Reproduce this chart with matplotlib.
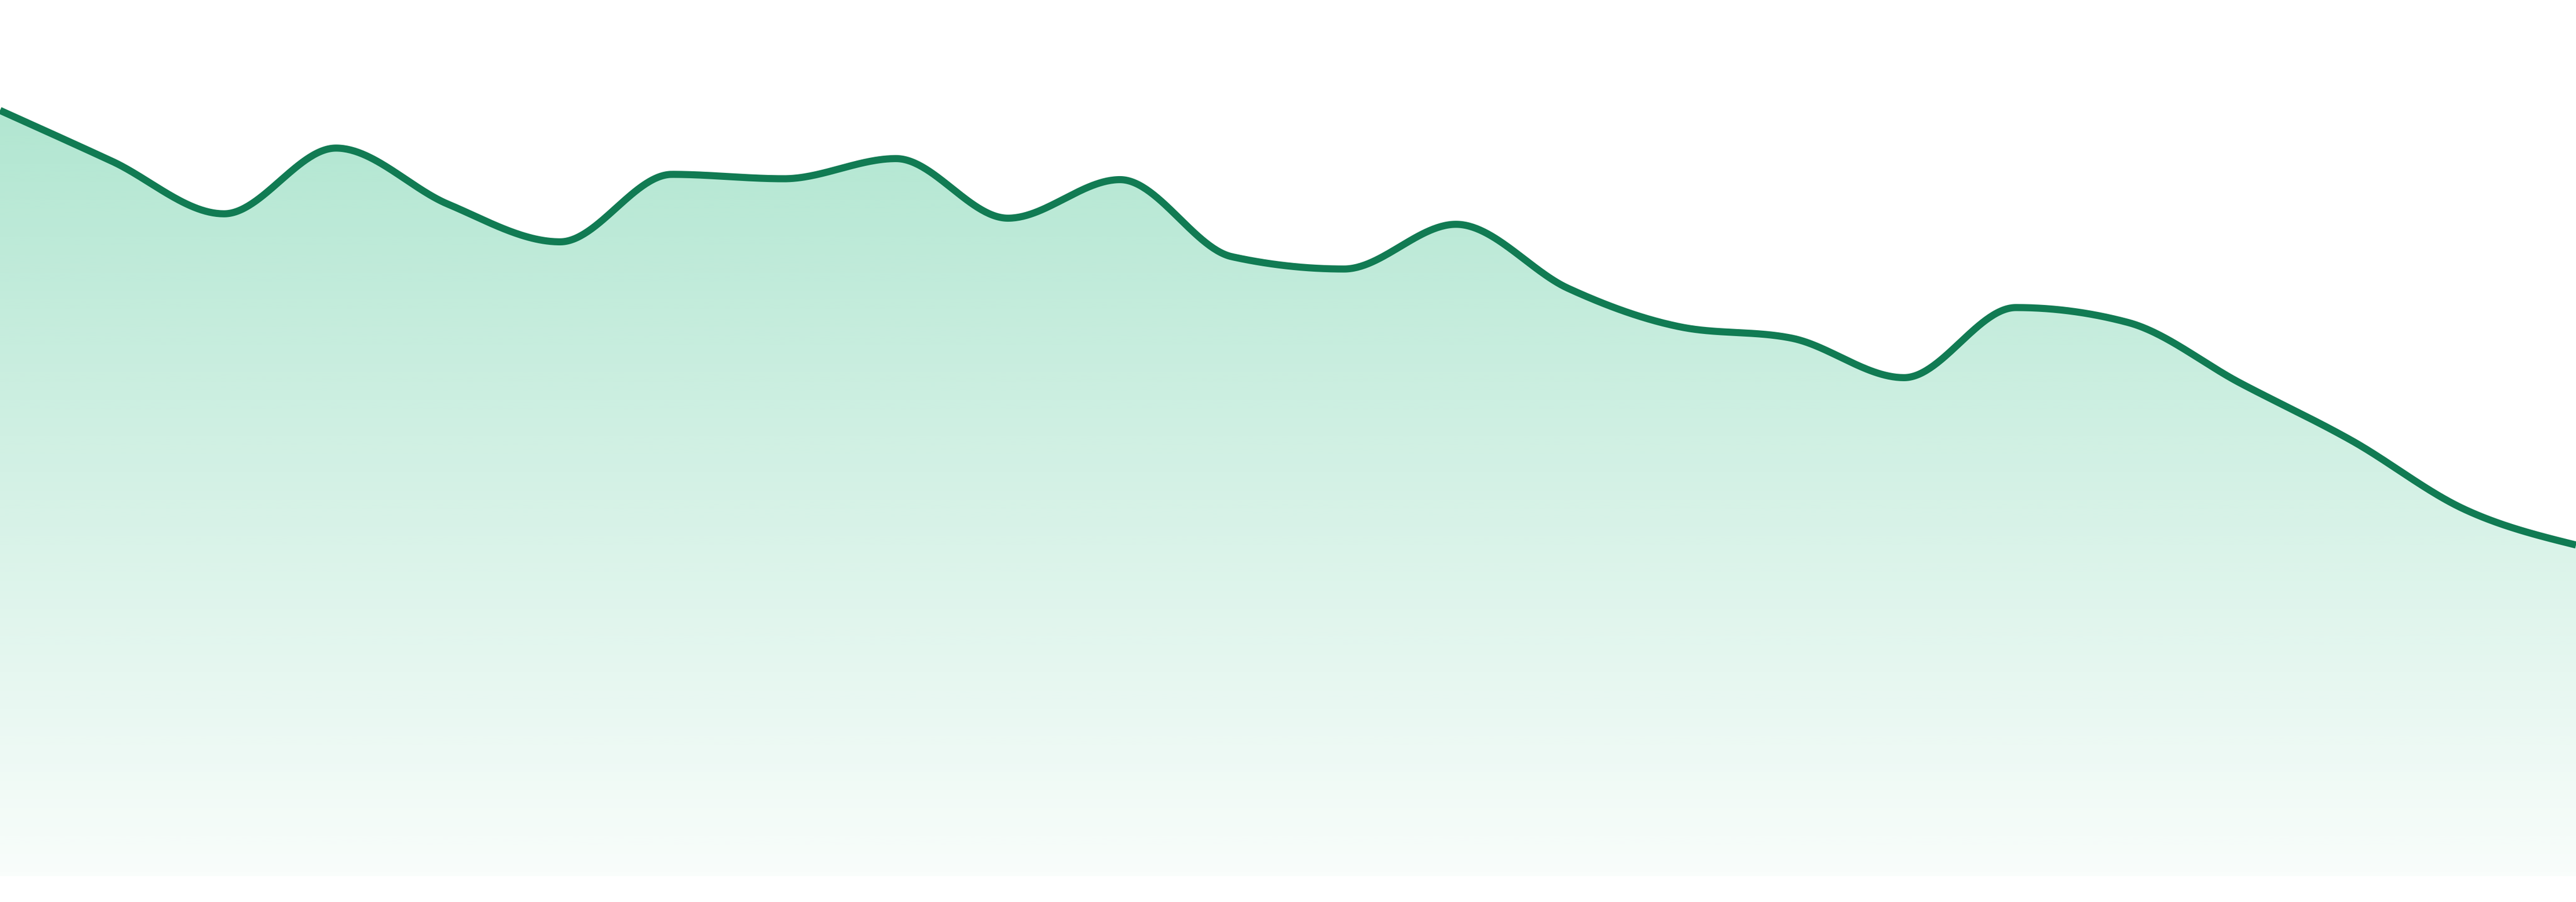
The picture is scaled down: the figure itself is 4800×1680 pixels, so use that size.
import numpy as np
import matplotlib
matplotlib.use("Agg")
import matplotlib.pyplot as plt
from matplotlib.patches import Polygon

# ---- data ----
points = list(range(24))
values = [87.4, 81.6, 75.6, 83.1, 76.7, 72.4, 80.1, 79.6, 81.9, 75.1, 79.5, 70.7,
          69.3, 74.4, 67.1, 62.7, 61.4, 56.9, 64.9, 63.2, 56.3, 49.7, 41.9, 37.8]

line_color = "#117b53"
fill_rgb = (38 / 255, 186 / 255, 127 / 255)


def monotone_x(x, y, n=60):
    """Monotone cubic interpolation (Steffen, like d3.curveMonotoneX)."""
    x = np.asarray(x, float)
    y = np.asarray(y, float)
    m = len(x)
    h = np.diff(x)
    s = np.diff(y) / h
    t = np.zeros(m)
    for i in range(1, m - 1):
        h0, h1 = h[i - 1], h[i]
        s0, s1 = s[i - 1], s[i]
        p = (s0 * h1 + s1 * h0) / (h0 + h1)
        t[i] = (np.sign(s0) + np.sign(s1)) * min(abs(s0), abs(s1), 0.5 * abs(p))
    t[0] = (3 * s[0] - t[1]) / 2
    t[-1] = (3 * s[-1] - t[-2]) / 2
    xs, ys = [], []
    for i in range(m - 1):
        u = np.linspace(0, 1, n, endpoint=(i == m - 2))
        hh = h[i]
        h00 = 2 * u**3 - 3 * u**2 + 1
        h10 = u**3 - 2 * u**2 + u
        h01 = -2 * u**3 + 3 * u**2
        h11 = u**3 - u**2
        xs.append(x[i] + u * hh)
        ys.append(h00 * y[i] + h10 * hh * t[i] + h01 * y[i + 1] + h11 * hh * t[i + 1])
    return np.concatenate(xs), np.concatenate(ys)


fig = plt.figure(figsize=(48, 16.8), dpi=100)
ax = fig.add_axes([0, 48 / 1680, 1, 1632 / 1680])
ax.set_xlim(points[0], points[-1])
ax.set_ylim(0, 100)
ax.axis("off")

xs, ys = monotone_x(points, values)

# gradient fill under the curve
top = max(values)
grad_n = 512
alpha = np.linspace(0.03, 0.36, grad_n)[:, None]
img = np.zeros((grad_n, 2, 4))
img[..., 0] = fill_rgb[0]
img[..., 1] = fill_rgb[1]
img[..., 2] = fill_rgb[2]
img[..., 3] = alpha
poly_xy = np.column_stack([np.r_[xs, xs[-1], xs[0]], np.r_[ys, 0, 0]])
poly = Polygon(poly_xy, closed=True, facecolor="none", edgecolor="none")
ax.add_patch(poly)
im = ax.imshow(img, extent=[points[0], points[-1], 0, top], origin="lower",
               aspect="auto", interpolation="bilinear", zorder=1)
im.set_clip_path(poly)

ax.plot(xs, ys, color=line_color, lw=9.5, solid_capstyle="butt", zorder=2, clip_on=True)

fig.savefig("out.png", dpi=100, facecolor="white")
